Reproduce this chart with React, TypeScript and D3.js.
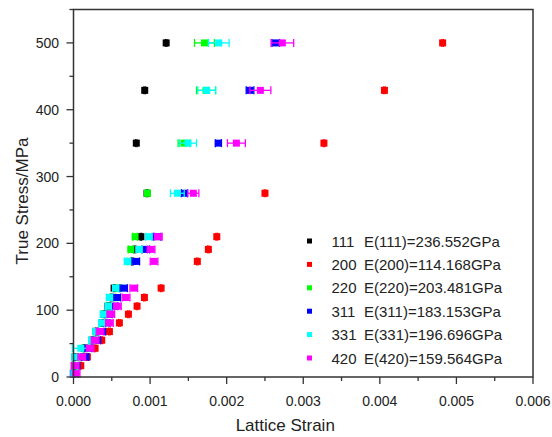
import React from "react";
import * as d3 from "d3";

const stress = [5, 17, 30, 43, 55, 68, 81, 94, 106, 119, 133, 173, 191, 210, 275, 350, 429, 500];

const s111 = [0.000005, 0.000012, 0.00002, 0.00014, 0.000243, 0.000295, 0.000373, 0.0004, 0.00045, 0.00049, 0.00053, 0.00077, 0.0008, 0.00088, 0.00096, 0.00082, 0.00093, 0.00121];
const s200 = [0.000012, 0.000095, 0.000181, 0.000282, 0.000369, 0.000469, 0.000599, 0.000717, 0.00083, 0.000926, 0.001144, 0.001617, 0.001761, 0.001871, 0.0025, 0.00327, 0.00406, 0.00482];
const s220 = [0.000005, 0.000015, 0.000086, 0.000151, 0.000256, 0.000295, 0.000386, 0.00041, 0.000456, 0.000513, 0.000595, 0.00073, 0.000748, 0.000804, 0.000965, 0.001444, 0.00173, 0.00171];
const s311 = [0.00001, 0.000034, 0.000151, 0.00019, 0.000304, 0.000369, 0.000426, 0.000456, 0.00053, 0.000565, 0.000654, 0.000813, 0.000944, 0.00109, 0.001448, 0.001892, 0.002305, 0.002641];
const s331 = [0.000008, 0.000021, 0.000021, 0.000095, 0.000239, 0.000295, 0.000369, 0.00039, 0.000456, 0.000469, 0.00055, 0.000704, 0.000856, 0.000983, 0.001356, 0.001496, 0.00174, 0.001897];
const s420 = [0.000034, 0.000021, 0.000108, 0.000217, 0.000282, 0.000347, 0.000469, 0.000487, 0.000573, 0.000687, 0.000787, 0.001052, 0.001013, 0.001108, 0.001565, 0.002127, 0.00244, 0.002727];

const e111 = [0.00001, 0.00001, 0.00001, 0.00001, 0.00001, 0.00001, 0.00001, 0.00001, 0.00001, 0.00001, 0.00001, 0.00001, 0.00001, 0.00001, 0.00001, 0.00001, 0.00001, 0.00001];
const e200 = [0.00001, 0.00001, 0.00001, 0.00001, 0.00001, 0.00001, 0.00001, 0.00001, 0.00001, 0.00001, 0.00001, 0.00001, 0.00001, 0.00001, 0.00001, 0.00001, 0.00001, 0.00001];
const e220 = [0.00003, 0.00003, 0.00003, 0.00003, 0.00003, 0.00003, 0.00003, 0.00003, 0.00003, 0.00003, 0.00003, 0.00003, 0.00003, 0.00003, 0.00002, 0.000078, 0.000124, 0.00013];
const e311 = [0.00005, 0.00005, 0.00005, 0.00005, 0.00005, 0.00005, 0.00005, 0.00005, 0.00005, 0.00005, 0.00005, 0.00005, 0.00005, 0.00005, 0.00004, 0.00004, 0.00005, 0.00005];
const e331 = [0.00004, 0.00004, 0.00004, 0.00011, 0.00004, 0.00004, 0.00004, 0.00004, 0.00004, 0.00004, 0.00004, 0.00004, 0.00004, 0.00004, 0.00009, 0.00011, 0.000117, 0.000135];
const e420 = [0.00005, 0.00005, 0.00005, 0.00005, 0.00005, 0.00005, 0.00005, 0.00005, 0.00005, 0.00005, 0.00005, 0.00005, 0.00005, 0.00005, 0.000072, 0.000117, 0.000137, 0.000148];

const planes = ["111", "200", "220", "311", "331", "420"];
const moduli = ["E(111)=236.552GPa", "E(200)=114.168GPa", "E(220)=203.481GPa", "E(311)=183.153GPa", "E(331)=196.696GPa", "E(420)=159.564GPa"];
const colors = ["#000000", "#ff0000", "#00ff00", "#0000ff", "#00ffff", "#ff00ff"];

const xTicks = [0, 0.001, 0.002, 0.003, 0.004, 0.005, 0.006];
const yTicks = [0, 100, 200, 300, 400, 500];

const series = [
  { x: s111, e: e111 },
  { x: s200, e: e200 },
  { x: s220, e: e220 },
  { x: s311, e: e311 },
  { x: s331, e: e331 },
  { x: s420, e: e420 },
];

const W = 552;
const H = 437;
const left = 73.5;
const right = 533;
const top = 9.5;
const bottom = 377;

const font = "'Liberation Sans', Arial, sans-serif";

export default function App() {
  const x = d3.scaleLinear().domain([0, 0.006]).range([left, right]);
  const y = d3.scaleLinear().domain([0, 550]).range([bottom, top]);
  const xMinor = d3.range(0, 0.0060001, 0.0005);
  const yMinor = d3.range(0, 551, 50);
  const ms = 7;

  return (
    <div style={{ position: "absolute", left: 0, top: 0 }}>
      <svg width={W} height={H} style={{ display: "block", fontFamily: font }}>
        <rect width={W} height={H} fill="#fff" />
        {series.map((s, si) => (
          <g key={si} fill={colors[si]} stroke={colors[si]}>
            {stress.map((v, i) => {
              const cx = x(s.x[i]);
              const cy = y(v);
              const x0 = x(s.x[i] - s.e[i]);
              const x1 = x(s.x[i] + s.e[i]);
              return (
                <g key={i}>
                  <line x1={x0} x2={x1} y1={cy} y2={cy} strokeWidth={1.3} />
                  <line x1={x0} x2={x0} y1={cy - 4} y2={cy + 4} strokeWidth={1.3} />
                  <line x1={x1} x2={x1} y1={cy - 4} y2={cy + 4} strokeWidth={1.3} />
                  <rect x={cx - ms / 2} y={cy - ms / 2} width={ms} height={ms} stroke="none" />
                </g>
              );
            })}
          </g>
        ))}

        <rect x={left} y={top} width={right - left} height={bottom - top} fill="none" stroke="#333" strokeWidth={1.5} />

        {xMinor.map((t, i) => (
          <line key={"xm" + i} x1={x(t)} x2={x(t)} y1={bottom} y2={bottom + (i % 2 === 0 ? 7 : 4)} stroke="#333" strokeWidth={1.3} />
        ))}
        {yMinor.map((t, i) => (
          <line key={"ym" + i} x1={left} x2={left - (i % 2 === 0 ? 7 : 4)} y1={y(t)} y2={y(t)} stroke="#333" strokeWidth={1.3} />
        ))}

        {xTicks.map((t) => (
          <text key={"xt" + t} x={x(t)} y={406} textAnchor="middle" fontSize={14} fill="#222">
            {d3.format(".3f")(t)}
          </text>
        ))}
        {yTicks.map((t) => (
          <text key={"yt" + t} x={59} y={y(t) + 5} textAnchor="end" fontSize={14} fill="#222">
            {t}
          </text>
        ))}

        <text x={(left + right) / 2 - 18} y={431} textAnchor="middle" fontSize={17} fill="#222">
          Lattice Strain
        </text>
        <text transform={`translate(28, 201) rotate(-90)`} textAnchor="middle" fontSize={17} fill="#222">
          True Stress/MPa
        </text>

        {planes.map((p, i) => {
          const ly = 241 + i * 23.4;
          return (
            <g key={"lg" + p}>
              <rect x={309.5 - 2.5} y={ly - 2.5} width={5} height={5} fill={colors[i]} />
              <text x={331.5} y={ly + 5.5} fontSize={15} fill="#222">
                {p}
              </text>
              <text x={364} y={ly + 5.5} fontSize={15} fill="#222">
                {moduli[i]}
              </text>
            </g>
          );
        })}
      </svg>
    </div>
  );
}
